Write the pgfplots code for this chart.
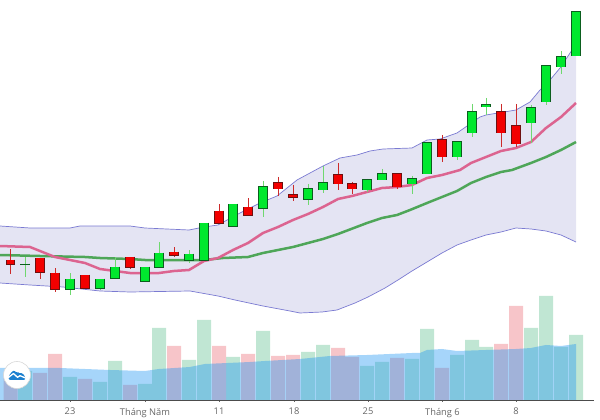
\documentclass[border=0pt]{standalone}
\usepackage{pgfplots}
\pgfplotsset{compat=1.18}
\usepackage{pgfplotstable}
\usepackage{fontspec}
\setmainfont{Open Sans}
\definecolor{bandfill}{HTML}{E4E4F3}
\definecolor{bandline}{HTML}{7B7BD2}
\definecolor{mapink}{HTML}{DC6490}
\definecolor{magreen}{HTML}{4EA658}
\definecolor{upfill}{HTML}{00E82E}
\definecolor{upedge}{HTML}{0B5E1E}
\definecolor{upwick}{HTML}{6FD86F}
\definecolor{dnfill}{HTML}{F20000}
\definecolor{dnedge}{HTML}{6E1010}
\definecolor{dnwick}{HTML}{CC2A2A}
\definecolor{volup}{HTML}{C0E6D3}
\definecolor{voldn}{HTML}{F7C5C9}
\definecolor{volma}{HTML}{2196F3}
\definecolor{ticktext}{HTML}{666666}
% candles: x, body top, body bottom, high, low (vertical reading of the picture)
\pgfplotstableread{
x top bot hi lo
25 264 264 257 277
70 279 289 273 295
100 279 288 279 290
115 267 278 257 278
145 267 281 267 281
159 253 267 242 267
189 254 260 250 263
204 223 260 223 260
233 204 226 204 226
263 187 208 181 217
308 189 199 184 205
323 183 190 166 193
367 180 190 179 192
382 174 180 169 180
412 179 184 176 194
427 143 174 143 174
457 142 157 142 160
472 112 133 104 137
486 105 107 98 115
531 108 123 105 143
546 66 102 66 105
561 57 67 51 74
576 12 56 11 56
}\upcandles
\pgfplotstableread{
x top bot hi lo
10.5 260 264 249 274
40 258 272 258 279
55 273 289 268 292
85 275 288 275 289
130 257 267 257 269
174 252 255 247 257
219 211 223 204 223
248 207 215 198 215
278 183 189 177 196
293 195 197 185 201
338 175 184 163 190
352 184 189 182 194
397 174 187 174 189
442 140 157 135 162
501 112 133 104 147
516 126 144 104 147
}\dncandles
\begin{document}
\begin{tikzpicture}[x=1pt,y=1pt]
\path[use as bounding box] (0,0) rectangle (600,420);
% volume panel
\begin{axis}[
  at={(0pt,20pt)}, anchor=south west,
  scale only axis, width=594pt, height=120pt,
  xmin=0, xmax=594, ymin=0, ymax=120,
  axis x line=bottom, axis y line=none,
  axis line style={-, color=black!70, line width=0.7pt},
  xtick={70,145,219,294,368,442.5,516},
  xticklabels={23,Tháng Năm,11,18,25,Tháng 6,8},
  tick align=outside, major tick length=2pt,
  x tick style={color=black!60, line width=0.6pt},
  xticklabel style={font=\fontsize{9.3}{10}\selectfont, text=ticktext, yshift=-2.5pt},
  clip=false,
]
\addplot[ybar, bar width=14pt, bar shift=0pt, fill=volup, draw=none] coordinates {
 (25,29) (70,23) (100,18) (115,39) (145,16) (159,72) (189,40) (204,80) (233,43) (263,69)
 (308,48) (323,55) (367,34) (382,38) (412,41) (427,71) (457,45) (472,60) (486,53) (531,72)
 (546,104) (561,53) (576,65)};
\addplot[ybar, bar width=14pt, bar shift=0pt, fill=voldn, draw=none] coordinates {
 (10.5,28) (40,27) (55,46) (85,21) (130,15) (174,54) (219,54) (248,46) (278,44) (293,45)
 (338,52) (352,43) (397,42) (442,32) (501,56) (516,94)};
\addplot[fill=volma, fill opacity=0.4, draw=none] coordinates {
 (0,32) (60,32) (85,31) (110,30) (145,29) (159,31) (190,33) (205,36) (250,38) (265,39)
 (300,41) (330,44) (367,45) (412,47) (420,47) (427,50) (442,51) (457,49) (486,50) (516,51)
 (531,52) (546,55) (561,54) (576,56) (576,0) (0,0)} -- cycle;
\end{axis}
% price panel
\begin{axis}[
  at={(0pt,0pt)}, anchor=south west,
  scale only axis, width=600pt, height=420pt,
  xmin=0, xmax=600, ymin=0, ymax=420, y dir=reverse,
  hide axis, clip=true,
  error bars/y dir=plus, error bars/y explicit, error bars/error mark=none,
]
\addplot[fill=bandfill, draw=none, forget plot] coordinates {
 (0,226) (30,228) (70,228) (80,226) (130,226) (145,228) (189,230) (204,227) (218,225) (240,213)
 (260,203) (277,196) (297,180) (323,166) (340,158) (357,155) (370,151) (383,149) (412,148)
 (427,140) (440,139) (457,133) (480,117) (486,115) (516,110) (530,102) (540,90) (550,80)
 (560,68) (572,50) (576,45)
 (576,242) (561,235) (546,231) (531,229) (516,228) (501,232) (486,235) (471,240) (457,245)
 (442,253) (427,262) (412,271) (398,280) (385,288) (368,297) (355,303) (337,310) (322,312)
 (300,313) (290,311) (263,306) (235,300) (218,296) (190,291) (130,292) (100,291) (63,287)
 (30,285) (0,283)} -- cycle;
\addplot[color=bandline, line width=0.7pt, forget plot] coordinates {
 (0,226) (30,228) (70,228) (80,226) (130,226) (145,228) (189,230) (204,227) (218,225) (240,213)
 (260,203) (277,196) (297,180) (323,166) (340,158) (357,155) (370,151) (383,149) (412,148)
 (427,140) (440,139) (457,133) (480,117) (486,115) (516,110) (530,102) (540,90) (550,80)
 (560,68) (572,50) (576,45)};
\addplot[color=bandline, line width=0.7pt, forget plot] coordinates {
 (0,283) (30,285) (63,287) (100,291) (130,292) (190,291) (218,296) (235,300) (263,306) (290,311)
 (300,313) (322,312) (337,310) (355,303) (368,297) (385,288) (398,280) (412,271) (427,262)
 (442,253) (457,245) (471,240) (486,235) (501,232) (516,228) (531,229) (546,231) (561,235) (576,242)};
\addplot[color=magreen, line width=2.5pt, forget plot] coordinates {
 (0,255) (40,256) (85,257) (100,258) (130,259) (145,260) (204,260) (223,258) (248,257) (263,253)
 (293,247) (323,239) (338,234) (367,223) (382,218) (397,215) (410,210) (427,203) (442,197)
 (457,191) (471,183) (486,177) (501,172) (512,170) (531,163) (546,157) (561,150) (576,142)};
\addplot[color=mapink, line width=2.5pt, forget plot] coordinates {
 (0,246) (30,247) (40,251) (55,257) (70,260) (85,263) (100,269) (115,271) (130,273) (159,273)
 (174,271) (189,270) (204,261) (218,258) (233,250) (248,243) (263,233) (278,227) (293,220)
 (308,214) (323,207) (338,199) (352,196) (367,192) (382,188) (397,187) (412,185) (427,178)
 (442,175) (460,170) (471,163) (486,157) (501,151) (516,148) (531,142) (546,128) (561,117) (576,103)};
% up candles
\addplot[draw=none, forget plot, error bars/error bar style={color=upwick, line width=1pt}]
 table[x=x, y=hi, y error plus expr={\thisrow{lo}-\thisrow{hi}}] {\upcandles};
\addplot[draw=none, forget plot, error bars/error bar style={color=upedge, line width=9.4pt}]
 table[x=x, y expr={\thisrow{top}-0.5}, y error plus expr={\thisrow{bot}-\thisrow{top}+1}] {\upcandles};
\addplot[draw=none, forget plot, error bars/error bar style={color=upfill, line width=7.6pt}]
 table[x=x, y expr={\thisrow{top}+0.3}, y error plus expr={max(\thisrow{bot}-\thisrow{top}-0.6,0)}] {\upcandles};
% down candles
\addplot[draw=none, forget plot, error bars/error bar style={color=dnwick, line width=1pt}]
 table[x=x, y=hi, y error plus expr={\thisrow{lo}-\thisrow{hi}}] {\dncandles};
\addplot[draw=none, forget plot, error bars/error bar style={color=dnedge, line width=9.4pt}]
 table[x=x, y expr={\thisrow{top}-0.5}, y error plus expr={\thisrow{bot}-\thisrow{top}+1}] {\dncandles};
\addplot[draw=none, forget plot, error bars/error bar style={color=dnfill, line width=7.6pt}]
 table[x=x, y expr={\thisrow{top}+0.3}, y error plus expr={max(\thisrow{bot}-\thisrow{top}-0.6,0)}] {\dncandles};
\end{axis}
% logo
\begin{scope}[shift={(17,45)}]
\fill[white] (0,0) circle (13.5);
\draw[black!15, line width=0.6pt] (0,0) circle (13.5);
\fill[color=volma!85!black, rounded corners=2pt]
 (-8.5,-5) -- (-8.5,-1) -- (-3.5,5) -- (0.5,1.5) -- (3,3) -- (8.5,-1) -- (8.5,-5) -- cycle;
\draw[color=white, line width=1.3pt, line join=round]
 (-9,-2.8) -- (-3.5,1.5) -- (0.5,-2.3) -- (3,-0.7) -- (9,-3.2);
\end{scope}
\end{tikzpicture}
\end{document}
